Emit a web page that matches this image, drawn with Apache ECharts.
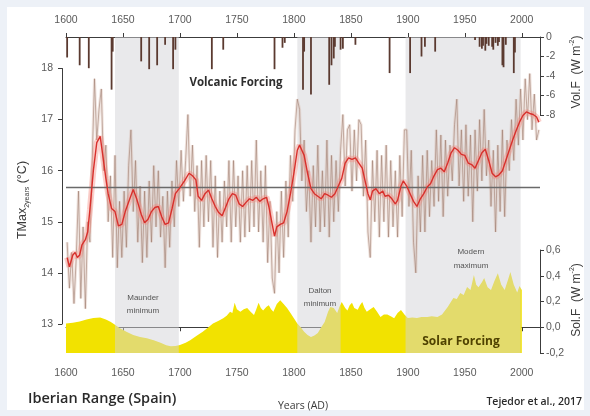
<!DOCTYPE html>
<html>
<head>
<meta charset="utf-8">
<script src="https://cdn.jsdelivr.net/npm/echarts@6/dist/echarts.min.js"></script>
<style>
  html, body { margin: 0; padding: 0; background: #edf1f7; }
  #chart { width: 590px; height: 416px; }
</style>
</head>
<body>
<div id="chart"></div>
<script>
// Year ticks shared by the top and bottom axes
const yearTicks = [1600, 1650, 1700, 1750, 1800, 1850, 1900, 1950, 2000];
const tempTicks = [13, 14, 15, 16, 17, 18];
const referenceTemp = 15.67;

// Shaded periods: Maunder minimum, Dalton minimum, Modern maximum
const periods = [[1643, 1699], [1803, 1841], [1898, 1999]];

// Smoothed reconstruction (red)
const tempSmooth = [
  [1601,14.30],[1603,14.12],[1606,14.35],[1608,14.40],[1610,14.30],[1612,14.35],[1614,14.55],[1617,14.65],
  [1619,14.80],[1621,15.24],[1624,16.00],[1627,16.55],[1630,16.67],[1632,16.35],[1635,15.85],[1637,15.55],
  [1640,15.26],[1643,15.20],[1646,14.92],[1649,14.95],[1652,15.20],[1656,15.45],[1659,15.63],[1662,15.45],
  [1666,15.15],[1669,14.98],[1672,15.05],[1675,15.20],[1678,15.28],[1681,15.30],[1684,15.10],[1687,14.95],
  [1690,14.98],[1693,15.25],[1696,15.55],[1700,15.67],[1704,15.80],[1708,15.95],[1711,15.90],[1714,15.82],
  [1716,15.50],[1719,15.42],[1722,15.55],[1725,15.62],[1728,15.45],[1731,15.30],[1734,15.18],[1737,15.12],
  [1740,15.28],[1743,15.45],[1746,15.55],[1749,15.52],[1752,15.35],[1755,15.30],[1758,15.38],[1761,15.45],
  [1764,15.42],[1767,15.48],[1770,15.40],[1773,15.45],[1776,15.48],[1778,15.30],[1781,14.95],[1783,14.72],
  [1785,14.90],[1788,14.95],[1791,14.98],[1794,15.20],[1797,15.55],[1800,15.95],[1803,16.40],[1805,16.50],
  [1807,16.40],[1809,16.30],[1812,15.95],[1815,15.65],[1818,15.55],[1821,15.50],[1824,15.45],[1827,15.55],
  [1830,15.52],[1833,15.48],[1836,15.55],[1839,15.70],[1842,15.85],[1845,16.15],[1848,16.25],[1851,16.22],
  [1854,16.25],[1857,16.15],[1860,16.05],[1862,15.85],[1865,15.55],[1867,15.43],[1869,15.60],[1872,15.65],
  [1875,15.55],[1878,15.60],[1880,15.50],[1883,15.52],[1886,15.45],[1889,15.35],[1891,15.42],[1894,15.70],
  [1896,15.80],[1899,15.70],[1902,15.55],[1905,15.40],[1908,15.30],[1911,15.45],[1914,15.55],[1917,15.68],
  [1920,15.75],[1923,15.90],[1926,16.02],[1929,16.05],[1932,15.98],[1935,16.15],[1938,16.35],[1941,16.45],
  [1944,16.40],[1947,16.32],[1950,16.30],[1953,16.15],[1956,16.12],[1959,16.05],[1962,16.20],[1965,16.35],
  [1968,16.42],[1971,16.20],[1974,15.95],[1977,15.88],[1980,15.92],[1983,16.00],[1986,16.20],[1989,16.40],
  [1992,16.60],[1995,16.78],[1998,16.95],[2001,17.08],[2004,17.15],[2007,17.12],[2010,17.10],[2013,17.05],
  [2015,16.95]
];

// Two-year values (brown)
const tempRaw = [
  [1601,14.6],[1603,13.7],[1605,14.4],[1607,13.4],[1609,14.3],[1611,15.6],[1613,13.5],[1615,14.9],
  [1617,13.3],[1619,15.0],[1621,14.6],[1623,16.2],[1625,17.8],[1627,16.6],[1629,17.2],[1631,17.6],
  [1633,16.0],[1635,16.5],[1637,15.0],[1639,15.9],[1641,14.3],[1643,16.3],[1645,14.1],[1647,15.4],
  [1649,14.3],[1651,15.6],[1653,14.5],[1655,16.1],[1657,16.8],[1659,15.2],[1661,16.2],[1663,14.6],
  [1665,15.7],[1667,14.2],[1669,15.6],[1671,14.3],[1673,15.8],[1675,14.6],[1677,16.1],[1679,14.9],
  [1681,16.0],[1683,14.7],[1685,15.5],[1687,14.1],[1689,15.6],[1691,14.5],[1693,15.8],[1695,14.9],
  [1697,16.2],[1699,15.3],[1701,16.4],[1703,15.4],[1705,16.2],[1707,17.1],[1709,15.5],[1711,16.5],
  [1713,15.2],[1715,16.1],[1717,14.5],[1719,16.2],[1721,14.9],[1723,16.3],[1725,15.0],[1727,16.2],
  [1729,14.5],[1731,15.9],[1733,14.3],[1735,15.6],[1737,14.6],[1739,15.8],[1741,14.9],[1743,16.2],
  [1745,14.6],[1747,16.2],[1749,14.9],[1751,15.9],[1753,14.6],[1755,16.0],[1757,14.7],[1759,16.1],
  [1761,14.8],[1763,16.2],[1765,14.9],[1767,16.6],[1769,14.8],[1771,16.0],[1773,14.6],[1775,16.1],
  [1777,14.2],[1779,15.4],[1781,13.9],[1783,13.6],[1785,15.2],[1787,14.0],[1789,15.6],[1791,14.3],
  [1793,15.8],[1795,14.7],[1797,16.3],[1799,15.4],[1801,16.8],[1803,17.4],[1805,17.2],[1807,15.8],
  [1809,16.6],[1811,15.2],[1813,16.0],[1815,14.6],[1817,16.1],[1819,14.9],[1821,16.5],[1823,14.8],
  [1825,16.0],[1827,14.9],[1829,16.6],[1831,14.7],[1833,16.3],[1835,15.0],[1837,16.2],[1839,15.2],
  [1841,16.4],[1843,17.1],[1845,15.7],[1847,16.8],[1849,16.9],[1851,15.6],[1853,16.8],[1855,15.8],
  [1857,17.0],[1859,16.9],[1861,15.5],[1863,16.6],[1865,14.8],[1867,14.3],[1869,16.2],[1871,15.0],
  [1873,16.4],[1875,14.7],[1877,16.3],[1879,15.0],[1881,16.5],[1883,14.7],[1885,16.2],[1887,14.9],
  [1889,16.0],[1891,14.7],[1893,16.3],[1895,15.1],[1897,16.8],[1899,16.8],[1901,15.3],[1903,16.4],
  [1905,14.6],[1907,14.0],[1909,15.9],[1911,14.8],[1913,16.3],[1915,14.8],[1917,16.4],[1919,15.1],
  [1921,16.2],[1923,15.3],[1925,16.8],[1927,15.4],[1929,16.7],[1931,15.1],[1933,16.6],[1935,15.5],
  [1937,16.5],[1939,15.8],[1941,16.9],[1943,17.4],[1945,15.7],[1947,16.8],[1949,15.4],[1951,16.9],
  [1953,15.5],[1955,16.7],[1957,15.0],[1959,16.8],[1961,15.6],[1963,17.0],[1965,15.8],[1967,17.2],
  [1969,15.9],[1971,16.6],[1973,15.3],[1975,16.4],[1977,14.8],[1979,16.5],[1981,15.2],[1983,16.8],
  [1985,15.1],[1987,16.6],[1989,16.0],[1991,17.0],[1993,16.2],[1995,17.4],[1997,16.5],[1999,17.6],
  [2001,16.6],[2003,17.8],[2005,17.0],[2007,17.9],[2009,16.8],[2011,17.5],[2013,16.6],[2015,16.8]
];

// Volcanic forcing (W m-2)
const volcanic = [
  [1601,-2.1],[1612,-2.9],[1620,-3.2],[1640,-5.4],[1641,-1.5],[1666,-2.5],[1673,-3.3],[1680,-2.9],
  [1687,-0.8],[1694,-3.3],[1696,-1.3],[1728,-3.3],[1738,-1.3],[1783,-3.3],[1790,-1.1],[1792,-0.6],
  [1808,-5.4],[1809,-1.5],[1815,-5.9],[1831,-4.9],[1833,-2.9],[1835,-2.2],[1836,-1.0],[1841,-1.3],
  [1843,-1.2],[1854,-0.8],[1884,-3.7],[1902,-3.7],[1912,-2.0],[1915,-1.0],[1924,-1.5],[1959,-0.3],
  [1963,-1.0],[1965,-1.2],[1966,-0.9],[1968,-1.4],[1969,-0.7],[1971,-0.9],[1974,-1.0],[1975,-1.3],
  [1977,-0.6],[1979,-0.9],[1980,-0.5],[1983,-2.9],[1984,-3.1],[1986,-0.8],[1993,-3.7],[1994,-1.6]
];

// Solar forcing (W m-2)
const solar = [
  [1600,0.03],[1606,0.035],[1612,0.045],[1618,0.06],[1624,0.072],[1630,0.075],[1635,0.06],[1639,0.043],
  [1643,0.02],[1647,-0.006],[1653,-0.035],[1659,-0.06],[1665,-0.075],[1671,-0.085],[1677,-0.1],[1683,-0.12],
  [1688,-0.14],[1692,-0.148],[1696,-0.145],[1700,-0.138],[1705,-0.12],[1709,-0.1],[1715,-0.065],[1720,-0.035],
  [1725,0.0],[1729,0.03],[1734,0.05],[1738,0.07],[1741,0.09],[1744,0.12],[1746,0.11],[1748,0.19],
  [1750,0.14],[1753,0.12],[1756,0.14],[1759,0.15],[1762,0.12],[1765,0.095],[1767,0.14],[1769,0.19],
  [1771,0.15],[1773,0.13],[1776,0.16],[1778,0.17],[1780,0.14],[1782,0.12],[1785,0.18],[1788,0.21],
  [1791,0.18],[1794,0.15],[1797,0.11],[1800,0.07],[1803,0.03],[1806,0.0],[1809,-0.035],[1812,-0.06],
  [1815,-0.075],[1818,-0.065],[1821,-0.045],[1824,0.0],[1827,0.04],[1830,0.12],[1832,0.157],[1835,0.15],
  [1838,0.11],[1840,0.16],[1842,0.196],[1845,0.15],[1847,0.13],[1849,0.17],[1851,0.19],[1853,0.15],
  [1856,0.135],[1858,0.17],[1860,0.196],[1862,0.15],[1864,0.12],[1867,0.14],[1870,0.157],[1873,0.12],
  [1876,0.08],[1879,0.1],[1882,0.1],[1885,0.085],[1888,0.07],[1891,0.11],[1894,0.134],[1897,0.1],
  [1900,0.072],[1904,0.075],[1908,0.072],[1912,0.08],[1917,0.08],[1921,0.085],[1926,0.08],[1930,0.1],
  [1935,0.157],[1938,0.2],[1940,0.227],[1943,0.22],[1946,0.266],[1949,0.25],[1952,0.313],[1955,0.29],
  [1958,0.406],[1960,0.33],[1962,0.31],[1965,0.35],[1967,0.383],[1970,0.31],[1973,0.29],[1976,0.36],
  [1979,0.42],[1982,0.33],[1985,0.29],[1988,0.37],[1990,0.43],[1993,0.33],[1996,0.27],[1998,0.32],
  [2000,0.29]
];

const FONT = 'Liberation Sans';
const tickLabel = { color: '#5a5a5a', fontSize: 10.5, fontFamily: FONT };
const axisLineStyle = { color: '#3c3c3c', width: 1 };
const plotLeft = 66, plotWidth = 474;

const chart = echarts.init(document.getElementById('chart'), null, { renderer: 'canvas' });

const gridBase = { left: plotLeft, width: plotWidth, containLabel: false };
const xBase = { type: 'value', min: 1600, max: 2016, splitLine: { show: false } };
const hiddenX = Object.assign({}, xBase, { show: false });
const yearLabel = v => String(v);

chart.setOption({
  animation: false,
  backgroundColor: 'transparent',
  grid: [
    Object.assign({ top: 37, height: 78 }, gridBase),     // volcanic forcing
    Object.assign({ top: 68.5, height: 255.5 }, gridBase), // temperature
    Object.assign({ top: 250, height: 103 }, gridBase),   // solar forcing
    Object.assign({ top: 37, height: 316 }, gridBase)     // shaded periods
  ],
  xAxis: [
    Object.assign({}, xBase, {
      gridIndex: 0, position: 'top',
      axisLine: { show: true, lineStyle: axisLineStyle },
      axisTick: { show: true, length: 4, customValues: yearTicks, lineStyle: axisLineStyle },
      axisLabel: Object.assign({ margin: 11, customValues: yearTicks, formatter: yearLabel }, tickLabel)
    }),
    Object.assign({}, hiddenX, { gridIndex: 1 }),
    Object.assign({}, xBase, {
      gridIndex: 2, position: 'bottom',
      axisLine: { show: true, lineStyle: axisLineStyle },
      axisTick: { show: true, length: 4, customValues: yearTicks, lineStyle: axisLineStyle },
      axisLabel: Object.assign({ margin: 15, customValues: yearTicks, formatter: yearLabel }, tickLabel)
    }),
    Object.assign({}, hiddenX, { gridIndex: 3 })
  ],
  yAxis: [
    {
      type: 'value', gridIndex: 0, position: 'right', min: -8, max: 0, interval: 2,
      splitLine: { show: false },
      axisLine: { show: true, lineStyle: axisLineStyle },
      axisTick: { show: true, length: 4, lineStyle: axisLineStyle },
      axisLabel: Object.assign({ margin: 6 }, tickLabel)
    },
    {
      type: 'value', gridIndex: 1, position: 'left', min: 13, max: 18, interval: 1, offset: 4,
      splitLine: { show: false },
      axisLine: { show: true, lineStyle: axisLineStyle },
      axisTick: { show: true, length: 4, lineStyle: axisLineStyle },
      axisLabel: Object.assign({ margin: 9, customValues: tempTicks }, tickLabel)
    },
    {
      type: 'value', gridIndex: 2, position: 'right', min: -0.2, max: 0.6, interval: 0.2,
      splitLine: { show: false },
      axisLine: { show: true, lineStyle: axisLineStyle },
      axisTick: { show: true, length: 4, lineStyle: axisLineStyle },
      axisLabel: Object.assign({
        margin: 6,
        formatter: v => (Math.round(v * 10) / 10).toFixed(1).replace('.', ',')
      }, tickLabel)
    },
    { type: 'value', gridIndex: 3, min: 0, max: 1, show: false }
  ],
  series: [
    {
      name: 'Solar forcing', type: 'line', xAxisIndex: 2, yAxisIndex: 2, data: solar,
      showSymbol: false, symbol: 'none', z: 1,
      lineStyle: { width: 0 },
      areaStyle: { color: '#f2e200', opacity: 1, origin: 'start' }
    },
    {
      name: 'Periods', type: 'line', xAxisIndex: 3, yAxisIndex: 3, data: [], z: 2,
      markArea: {
        silent: true, z: 2,
        itemStyle: { color: 'rgba(212,212,216,0.5)' },
        data: periods.map(p => [{ xAxis: p[0] }, { xAxis: p[1] }])
      }
    },
    {
      name: 'Volcanic forcing', type: 'bar', xAxisIndex: 0, yAxisIndex: 0, data: volcanic,
      barWidth: 1.8, z: 5, itemStyle: { color: '#5b3a30' }
    },
    {
      name: 'Two-year band', type: 'line', xAxisIndex: 1, yAxisIndex: 1, data: tempRaw,
      showSymbol: false, symbol: 'none', z: 3,
      lineStyle: { color: 'rgba(215,185,170,0.38)', width: 3 }
    },
    {
      name: 'Two-year', type: 'line', xAxisIndex: 1, yAxisIndex: 1, data: tempRaw,
      showSymbol: false, symbol: 'none', z: 3,
      lineStyle: { color: 'rgba(155,120,105,0.55)', width: 1 }
    },
    {
      name: 'Smoothed band', type: 'line', xAxisIndex: 1, yAxisIndex: 1, data: tempSmooth,
      showSymbol: false, symbol: 'none', z: 4,
      lineStyle: { color: 'rgba(245,135,125,0.4)', width: 6 }
    },
    {
      name: 'Smoothed', type: 'line', xAxisIndex: 1, yAxisIndex: 1, data: tempSmooth,
      showSymbol: false, symbol: 'none', z: 5,
      lineStyle: { color: '#d8302c', width: 1.4 },
      markLine: {
        silent: true, symbol: 'none', label: { show: false },
        lineStyle: { color: '#6a6a6a', width: 1.3, type: 'solid' },
        data: [{ yAxis: referenceTemp }]
      }
    }
  ],
  graphic: [
    { type: 'rect', z: -100, shape: { x: 7, y: 7, width: 577, height: 403 }, style: { fill: '#ffffff' } },
    {
      type: 'text', x: 23, y: 200, rotation: Math.PI / 2, z: 10,
      style: {
        text: '{a|TMax}{b|2years}{a| (°C)}', align: 'center', verticalAlign: 'middle',
        rich: {
          a: { fontSize: 12.5, fontFamily: FONT, fill: '#3a3a3a', lineHeight: 16 },
          b: { fontSize: 7, fontFamily: FONT, fill: '#3a3a3a', verticalAlign: 'bottom', lineHeight: 16 }
        }
      }
    },
    {
      type: 'text', x: 577, y: 72, rotation: Math.PI / 2, z: 10,
      style: {
        text: '{a|Vol.F  (W m}{s|-2}{a|)}', align: 'center', verticalAlign: 'middle',
        rich: {
          a: { fontSize: 12, fontFamily: FONT, fill: '#3a3a3a', lineHeight: 16 },
          s: { fontSize: 7, fontFamily: FONT, fill: '#3a3a3a', verticalAlign: 'top', lineHeight: 16 }
        }
      }
    },
    {
      type: 'text', x: 577, y: 300, rotation: Math.PI / 2, z: 10,
      style: {
        text: '{a|Sol.F  (W m}{s|-2}{a|)}', align: 'center', verticalAlign: 'middle',
        rich: {
          a: { fontSize: 12, fontFamily: FONT, fill: '#3a3a3a', lineHeight: 16 },
          s: { fontSize: 7, fontFamily: FONT, fill: '#3a3a3a', verticalAlign: 'top', lineHeight: 16 }
        }
      }
    },
    {
      type: 'text', x: 236, y: 83, z: 10,
      style: { text: 'Volcanic Forcing', fontFamily: 'Open Sans', fontWeight: 'bold', fontSize: 11.5,
               fill: '#2e2e2e', align: 'center', verticalAlign: 'middle' }
    },
    {
      type: 'text', x: 461, y: 342, z: 10,
      style: { text: 'Solar Forcing', fontFamily: 'Open Sans', fontWeight: 'bold', fontSize: 12,
               fill: '#4f4200', align: 'center', verticalAlign: 'middle' }
    },
    {
      type: 'text', x: 143, y: 304, z: 10,
      style: { text: 'Maunder\nminimum', fontFamily: FONT, fontSize: 8, lineHeight: 13,
               fill: '#555555', align: 'center', verticalAlign: 'middle' }
    },
    {
      type: 'text', x: 320, y: 297, z: 10,
      style: { text: 'Dalton\nminimum', fontFamily: FONT, fontSize: 8, lineHeight: 13,
               fill: '#555555', align: 'center', verticalAlign: 'middle' }
    },
    {
      type: 'text', x: 471, y: 259, z: 10,
      style: { text: 'Modern\nmaximum', fontFamily: FONT, fontSize: 8, lineHeight: 14,
               fill: '#555555', align: 'center', verticalAlign: 'middle' }
    },
    {
      type: 'text', x: 28, y: 399, z: 10,
      style: { text: 'Iberian Range (Spain)', fontFamily: 'Open Sans', fontWeight: 600, fontSize: 14.5,
               fill: '#2a2a2a', align: 'left', verticalAlign: 'middle' }
    },
    {
      type: 'text', x: 303, y: 406, z: 10,
      style: { text: 'Years (AD)', fontFamily: 'Open Sans', fontSize: 10.5,
               fill: '#3a3a3a', align: 'center', verticalAlign: 'middle' }
    },
    {
      type: 'text', x: 582, y: 402, z: 10,
      style: { text: 'Tejedor et al., 2017', fontFamily: 'Open Sans', fontWeight: 600, fontSize: 10.5,
               fill: '#2a2a2a', align: 'right', verticalAlign: 'middle' }
    }
  ]
});
</script>
</body>
</html>
